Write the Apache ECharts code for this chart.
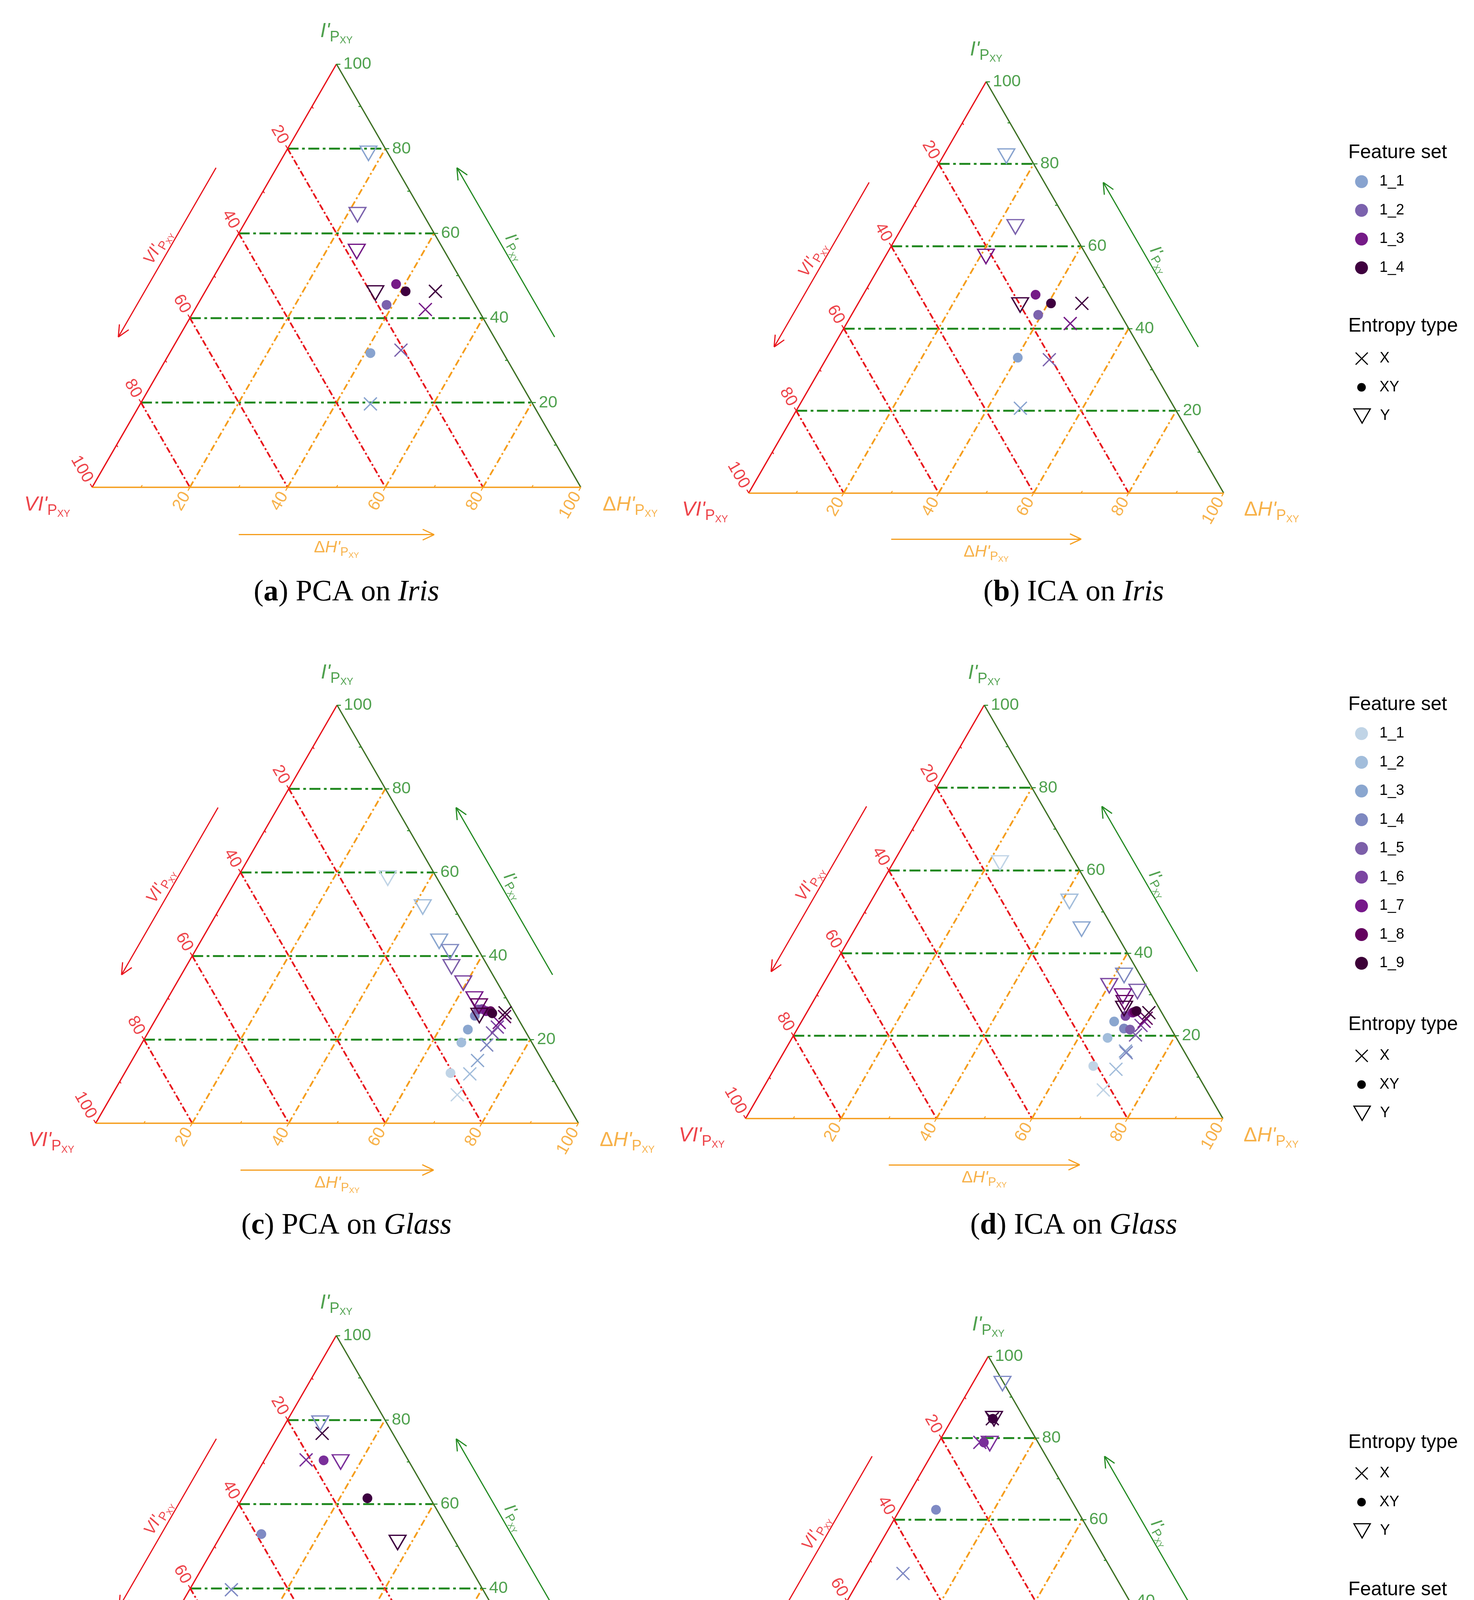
<!DOCTYPE html>
<html>
<head>
<meta charset="utf-8">
<script src="https://cdn.jsdelivr.net/npm/echarts@6/dist/echarts.min.js"></script>
<style>
  html, body { margin: 0; padding: 0; background: #fff; }
  #main { width: 3774px; height: 4872px; }
</style>
</head>
<body>
<div id="main"></div>
<script>
// values, each point is [dH', I'] in percent, one per feature set
var irisSets = ['1_1', '1_2', '1_3', '1_4'];
var glassSets = ['1_1', '1_2', '1_3', '1_4', '1_5', '1_6', '1_7', '1_8', '1_9'];
var arthritisSets = ['1_1', '1_2', '1_3'];
var entropyTypes = ['X', 'XY', 'Y'];
var gridValues = [20, 40, 60, 80];
var tickValues = [20, 40, 60, 80, 100];
var minorValues = [10, 30, 50, 70, 90];

var irisColors = ['#88a3cf', '#7b62ad', '#751a87', '#3f003f'];
var glassColors = ['#c0d4e6', '#a2bddb', '#8aa6cf', '#7e88c0', '#7c5fa9', '#7b45a1', '#76188a', '#63005e', '#3c0037'];
var arthritisColors = ['#7f8ac4', '#7a2f9a', '#3d0040'];

var pcaIrisX = [[47.1, 19.7], [47.0, 32.4], [47.2, 42.0], [47.1, 46.3]];
var pcaIrisXY = [[41.1, 31.7], [38.7, 43.1], [38.2, 48.0], [41.0, 46.3]];
var pcaIrisY = [[17.1, 78.9], [22.1, 64.4], [26.3, 55.7], [35.0, 45.9]];

var icaIrisX = [[46.9, 20.6], [47.1, 32.4], [47.1, 41.2], [47.1, 46.1]];
var icaIrisXY = [[40.2, 32.9], [39.3, 43.3], [36.3, 48.2], [40.6, 46.1]];
var icaIrisY = [[13.3, 81.9], [23.8, 64.7], [21.2, 57.5], [34.3, 45.7]];

var pcaGlassX = [[71.5, 6.8], [71.6, 11.8], [71.6, 15.0], [71.65, 18.7], [71.4, 21.6], [71.7, 23.0], [71.55, 24.1], [71.95, 25.5], [71.6, 26.4]];
var pcaGlassXY = [[67.5, 12.0], [66.1, 19.3], [65.9, 22.4], [65.7, 25.7], [65.6, 27.2], [66.4, 27.3], [67.5, 26.8], [68.4, 26.8], [69.0, 26.3]];
var pcaGlassY = [[31.2, 58.6], [41.9, 51.7], [49.4, 43.5], [52.9, 41.0], [55.0, 37.4], [59.4, 33.5], [63.6, 29.7], [65.4, 28.0], [66.6, 25.75]];

var icaGlassX = [[71.5, 6.9], [71.65, 11.9], [71.45, 16.3], [71.8, 15.9], [71.6, 20.2], [71.6, 22.5], [71.75, 23.5], [71.8, 24.25], [71.7, 25.6]];
var icaGlassXY = [[66.5, 12.7], [66.1, 19.5], [65.5, 23.45], [68.4, 21.75], [69.8, 21.5], [67.2, 24.8], [68.3, 25.6], [68.6, 25.8], [68.9, 26.0]];
var icaGlassY = [[22.4, 61.8], [41.6, 52.5], [47.5, 45.8], [62.0, 34.6], [66.75, 30.7], [60.15, 32.1], [64.25, 29.6], [65.4, 28.0], [66.0, 26.6]];

var pcaArthritisX = [[8.6, 39.7], [8.55, 70.5], [8.7, 76.8]];
var pcaArthritisXY = [[8.15, 52.9], [12.2, 70.4], [25.7, 61.4]];
var pcaArthritisY = [[7.1, 79.2], [15.9, 70.0], [37.15, 50.9]];

var icaArthritisX = [[8.5, 46.8], [8.75, 78.9], [8.5, 84.7]];
var icaArthritisXY = [[7.7, 62.4], [9.6, 78.9], [8.6, 84.7]];
var icaArthritisY = [[6.35, 93.3], [11.0, 78.6], [8.85, 84.7]];

// layout of the six triangles (pixels)
var panels = [
  { key: 'a', method: 'PCA', dataset: 'Iris', left: 236, top: 164, width: 1251, X: pcaIrisX, XY: pcaIrisXY, Y: pcaIrisY, colors: irisColors, cx: 887, cy: 1517 },
  { key: 'b', method: 'ICA', dataset: 'Iris', left: 1917, top: 209, width: 1216, X: icaIrisX, XY: icaIrisXY, Y: icaIrisY, colors: irisColors, cx: 2749, cy: 1517 },
  { key: 'c', method: 'PCA', dataset: 'Glass', left: 245, top: 1805, width: 1236, X: pcaGlassX, XY: pcaGlassXY, Y: pcaGlassY, colors: glassColors, cx: 887, cy: 3138 },
  { key: 'd', method: 'ICA', dataset: 'Glass', left: 1909, top: 1805, width: 1222, X: icaGlassX, XY: icaGlassXY, Y: icaGlassY, colors: glassColors, cx: 2749, cy: 3138 },
  { key: 'e', method: 'PCA', dataset: 'Arthritis', left: 238, top: 3419, width: 1246, X: pcaArthritisX, XY: pcaArthritisXY, Y: pcaArthritisY, colors: arthritisColors, cx: 887, cy: 4786 },
  { key: 'f', method: 'ICA', dataset: 'Arthritis', left: 1927, top: 3472, width: 1207, X: icaArthritisX, XY: icaArthritisXY, Y: icaArthritisY, colors: arthritisColors, cx: 2749, cy: 4786 }
];

var legendBlocks = [
  { key: 'b', sets: irisSets, colors: irisColors, featureTitle: 391, featureFirst: 465, entropyTitle: 835, entropyFirst: 918 },
  { key: 'd', sets: glassSets, colors: glassColors, featureTitle: 1804, featureFirst: 1878, entropyTitle: 2623, entropyFirst: 2703 },
  { key: 'f', sets: arthritisSets, colors: arthritisColors, featureTitle: 4070, featureFirst: 4142, entropyTitle: 3693, entropyFirst: 3772 }
];

var SANS = "'Liberation Sans', Arial, Helvetica, sans-serif";
var SERIF = "'Liberation Serif', 'Times New Roman', serif";
var RED = '#e8141c', GREEN = '#238a22', EDGE_GREEN = '#3e7125', ORANGE = '#f59d1c';

var H = Math.sqrt(3) / 2;
// ternary (dH', I') -> plane, VI' = 100 - dH' - I'
function tern(dH, I) { return [dH + I / 2, I * H]; }
function shift(p, dir, s) { return [p[0] + dir[0] * s, p[1] + dir[1] * s]; }
var UP_LEFT = [-0.5, H], DOWN_LEFT = [-0.5, -H], RIGHT = [1, 0], LEFT = [-1, 0];

function arrow(a, b, len) {
  var dx = b[0] - a[0], dy = b[1] - a[1], n = Math.sqrt(dx * dx + dy * dy);
  dx /= n; dy /= n;
  var segs = [{ coords: [a, b] }];
  [25, -25].forEach(function (deg) {
    var r = deg * Math.PI / 180, c = Math.cos(r), s = Math.sin(r);
    var wx = -(dx * c - dy * s), wy = -(dx * s + dy * c);
    segs.push({ coords: [b, [b[0] + wx * len, b[1] + wy * len]] });
  });
  return segs;
}

function richFor(color, k) {
  return {
    a: { fontSize: 52 * k, fontStyle: 'italic', fontFamily: SANS, color: color },
    d: { fontSize: 52 * k, fontFamily: SANS, color: color },
    b: { fontSize: 38 * k, fontFamily: SANS, color: color, padding: [30 * k, 0, 0, 0] },
    c: { fontSize: 25 * k, fontFamily: SANS, color: color, padding: [48 * k, 0, 0, 0] }
  };
}

var grid = [], xAxis = [], yAxis = [], series = [], legend = [], title = [];

var SYMBOLS = { X: 'path://M0,0L10,10M10,0L0,10', XY: 'circle', Y: 'triangle' };
var SIZES = { X: 33, XY: 25, Y: [43, 37] };

panels.forEach(function (p, i) {
  grid.push({ left: p.left, top: p.top, width: p.width, height: p.width * H });
  xAxis.push({ type: 'value', gridIndex: i, min: 0, max: 100, show: false });
  yAxis.push({ type: 'value', gridIndex: i, min: 0, max: 100 * H, show: false });

  var base = { coordinateSystem: 'cartesian2d', xAxisIndex: i, yAxisIndex: i, silent: true, clip: false };
  function lines(data, style, z) {
    series.push(Object.assign({ type: 'lines', z: z, data: data, lineStyle: Object.assign({ opacity: 1 }, style) }, base));
  }
  function texts(data, label, z) {
    series.push(Object.assign({
      type: 'scatter', z: z, symbolSize: 1, itemStyle: { color: 'rgba(0,0,0,0)' }, data: data,
      label: Object.assign({ show: true, position: 'inside', formatter: function (q) { return q.name; } }, label)
    }, base));
  }

  // grid lines
  lines(gridValues.map(function (v) { return { coords: [tern(0, v), tern(100 - v, v)] }; }),
    { color: GREEN, width: 5.2, type: [28, 9, 7, 9] }, 1);
  lines(gridValues.map(function (v) { return { coords: [tern(0, 100 - v), tern(100 - v, 0)] }; }),
    { color: RED, width: 4.4, type: [16, 6, 5, 6] }, 1);
  lines(gridValues.map(function (v) { return { coords: [tern(v, 0), tern(v, 100 - v)] }; }),
    { color: ORANGE, width: 4.4, type: [17, 7, 5, 7] }, 1);

  // triangle edges
  lines([{ coords: [tern(0, 0), tern(0, 100)] }], { color: RED, width: 3.4 }, 2);
  lines([{ coords: [tern(100, 0), tern(0, 100)] }], { color: EDGE_GREEN, width: 3.4 }, 2);
  lines([{ coords: [tern(0, 0), tern(100, 0)] }], { color: ORANGE, width: 3.4 }, 2);

  // ticks
  lines(tickValues.map(function (v) { var q = tern(100 - v, v); return { coords: [q, shift(q, RIGHT, 0.8)] }; })
    .concat(minorValues.map(function (v) { var q = tern(100 - v, v); return { coords: [q, shift(q, LEFT, 0.5)] }; })),
    { color: GREEN, width: 2.5 }, 2);
  lines(tickValues.map(function (v) { var q = tern(0, 100 - v); return { coords: [q, shift(q, UP_LEFT, 0.8)] }; })
    .concat(minorValues.map(function (v) { var q = tern(0, 100 - v); return { coords: [q, shift(q, [0.5, -H], 0.5)] }; })),
    { color: RED, width: 2.5 }, 2);
  lines(tickValues.map(function (v) { var q = tern(v, 0); return { coords: [q, shift(q, DOWN_LEFT, 0.8)] }; })
    .concat(minorValues.map(function (v) { var q = tern(v, 0); return { coords: [q, shift(q, [0.5, H], 0.5)] }; })),
    { color: ORANGE, width: 2.5 }, 2);

  // direction arrows
  var rA = shift(tern(0, 75.5), LEFT, 12.4), rB = shift(tern(0, 35.5), LEFT, 12.4);
  var gA = shift(tern(64.5, 35.5), RIGHT, 12.4), gB = shift(tern(24.5, 75.5), RIGHT, 12.4);
  var oA = [30, -9.7], oB = [70, -9.7];
  lines(arrow(rA, rB, 2.6), { color: RED, width: 3 }, 2);
  lines(arrow(gA, gB, 2.6), { color: GREEN, width: 3 }, 2);
  lines(arrow(oA, oB, 2.6), { color: ORANGE, width: 3 }, 2);

  // tick labels
  var tickFont = { fontSize: 43, fontFamily: SANS };
  texts(tickValues.map(function (v) {
    return { name: String(v), value: shift(tern(100 - v, v), RIGHT, 1.4), label: { color: GREEN, align: 'left', verticalAlign: 'middle' } };
  }).concat(tickValues.map(function (v) {
    return { name: String(v), value: shift(tern(0, 100 - v), UP_LEFT, 1.4), label: { color: RED, align: 'right', verticalAlign: 'middle', rotate: -60 } };
  })).concat(tickValues.map(function (v) {
    return { name: String(v), value: shift(tern(v, 0), DOWN_LEFT, 1.4), label: { color: ORANGE, align: 'right', verticalAlign: 'middle', rotate: 60 } };
  })), tickFont, 3);

  // axis titles
  var sI = "{a|I'}{b|P}{c|XY}", sVI = "{a|VI'}{b|P}{c|XY}", sH = "{d|\u0394}{a|H'}{b|P}{c|XY}";
  var rMid = [(rA[0] + rB[0]) / 2, (rA[1] + rB[1]) / 2], gMid = [(gA[0] + gB[0]) / 2, (gA[1] + gB[1]) / 2];
  texts([
    { name: sI, value: [50, 100 * H + 6.7], label: { color: GREEN, rich: richFor(GREEN, 1) } },
    { name: sVI, value: [-9.2, -3.6], label: { color: RED, rich: richFor(RED, 1) } },
    { name: sH, value: [110.1, -3.6], label: { color: ORANGE, rich: richFor(ORANGE, 1) } },
    { name: sVI, value: shift(rMid, [-H, 0.5], 2.3), label: { color: RED, rotate: 60, rich: richFor(RED, 0.82) } },
    { name: sI, value: shift(gMid, [H, 0.5], 2.3), label: { color: GREEN, rotate: -60, rich: richFor(GREEN, 0.82) } },
    { name: sH, value: [50, -12.4], label: { color: ORANGE, rich: richFor(ORANGE, 0.82) } }
  ], { fontSize: 52, fontFamily: SANS }, 3);

  // the points
  entropyTypes.forEach(function (t) {
    series.push(Object.assign({
      type: 'scatter', name: p.key + ' ' + t, z: 6,
      symbol: SYMBOLS[t], symbolSize: SIZES[t], symbolRotate: t === 'Y' ? 180 : 0,
      itemStyle: { opacity: 1 },
      data: p[t].map(function (d, k) {
        return {
          value: tern(d[0], d[1]),
          itemStyle: t === 'XY' ? { color: p.colors[k], opacity: 1 } : { color: 'rgba(0,0,0,0)', borderColor: p.colors[k], borderWidth: 3.4, opacity: 1 }
        };
      })
    }, base));
  });

  title.push({
    text: '{n|(}{b|' + p.key + '}{n|) ' + p.method + ' on }{i|' + p.dataset + '}',
    left: p.cx, top: p.cy - 46, textAlign: 'center', padding: 0,
    textStyle: {
      fontSize: 76, lineHeight: 92, fontWeight: 'normal', fontFamily: SERIF, color: '#000',
      rich: {
        n: { fontSize: 76, fontFamily: SERIF, fontWeight: 'normal', color: '#000' },
        b: { fontSize: 76, fontFamily: SERIF, fontWeight: 'bold', color: '#000' },
        i: { fontSize: 76, fontFamily: SERIF, fontWeight: 'normal', fontStyle: 'italic', color: '#000' }
      }
    }
  });
});

// legends
var ICX = 3486, TEXT_X = 3532, STEP = 73.5;
var ENTROPY_ICONS = {
  X: { icon: 'path://M0,0L10,10M10,0L0,10', w: 33, h: 31 },
  XY: { icon: 'circle', w: 22, h: 22 },
  Y: { icon: 'path://M0,0L10,0L5,8.66Z', w: 42, h: 37 }
};
function shortName(n) { return n.split(' ').pop(); }

legendBlocks.forEach(function (b) {
  var headStyle = { fontSize: 50, fontWeight: 'normal', fontFamily: SANS, color: '#000', lineHeight: 60 };
  title.push({ text: 'Feature set', left: 3452, top: b.featureTitle - 30, padding: 0, textStyle: headStyle });
  title.push({ text: 'Entropy type', left: 3452, top: b.entropyTitle - 30, padding: 0, textStyle: headStyle });

  b.sets.forEach(function (s, k) {
    series.push({ type: 'scatter', name: b.key + ' ' + s, data: [], xAxisIndex: 0, yAxisIndex: 0, itemStyle: { color: b.colors[k], opacity: 1 } });
  });
  legend.push({
    orient: 'vertical', left: ICX - 16.5, top: b.featureFirst - 20, padding: 0,
    itemGap: STEP - 40, itemWidth: 33, itemHeight: 33, selectedMode: false, formatter: shortName,
    textStyle: { fontSize: 38, lineHeight: 40, fontFamily: SANS, color: '#000', padding: [0, 0, 0, TEXT_X - (ICX + 16.5) - 5] },
    data: b.sets.map(function (s, k) {
      return { name: b.key + ' ' + s, icon: 'circle', itemStyle: { color: b.colors[k], borderWidth: 0, opacity: 1 } };
    })
  });

  entropyTypes.forEach(function (t, j) {
    var ic = ENTROPY_ICONS[t];
    var st = t === 'XY' ? { color: '#000', borderWidth: 0, opacity: 1 } : { color: 'rgba(0,0,0,0)', borderColor: '#000', borderWidth: 3, opacity: 1 };
    series.push({ type: 'scatter', name: b.key + ' type ' + t, data: [], xAxisIndex: 0, yAxisIndex: 0, itemStyle: st });
    legend.push({
      orient: 'vertical', left: ICX - ic.w / 2, top: b.entropyFirst + j * STEP - 20, padding: 0,
      itemWidth: ic.w, itemHeight: ic.h, selectedMode: false, formatter: shortName,
      textStyle: { fontSize: 38, lineHeight: 40, fontFamily: SANS, color: '#000', padding: [0, 0, 0, TEXT_X - (ICX + ic.w / 2) - 5] },
      data: [{ name: b.key + ' type ' + t, icon: ic.icon, itemStyle: st }]
    });
  });
});

var myChart = echarts.init(document.getElementById('main'));
myChart.setOption({
  animation: false,
  backgroundColor: '#fff',
  title: title,
  legend: legend,
  grid: grid,
  xAxis: xAxis,
  yAxis: yAxis,
  series: series
});
</script>
</body>
</html>
